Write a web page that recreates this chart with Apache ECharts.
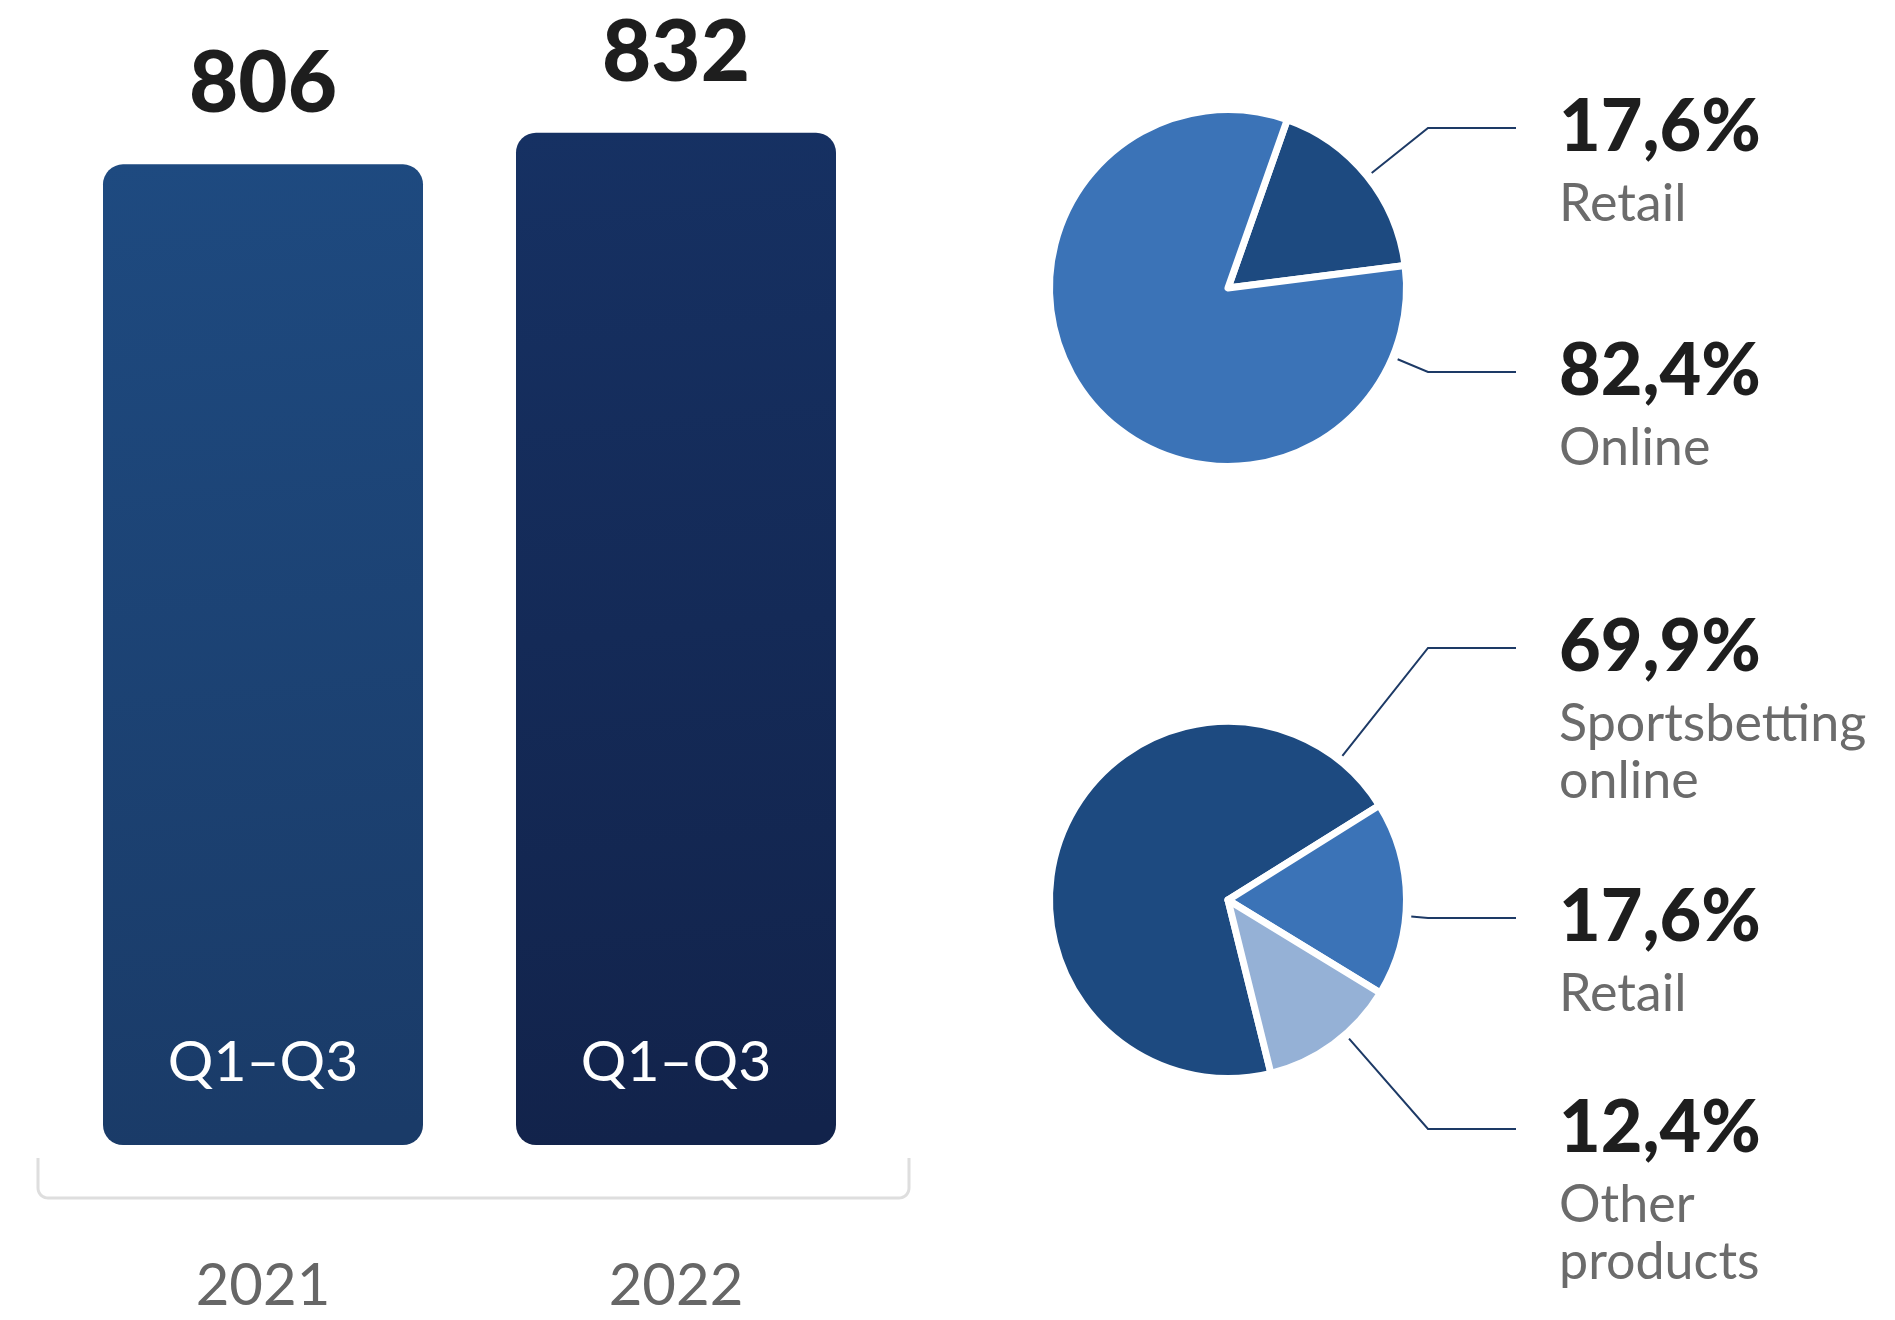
<!DOCTYPE html>
<html>
<head>
<meta charset="utf-8">
<script src="https://cdn.jsdelivr.net/npm/echarts@6/dist/echarts.min.js"></script>
<style>
  html, body { margin: 0; padding: 0; background: #ffffff; }
  #chart { width: 1895px; height: 1320px; }
</style>
</head>
<body>
<div id="chart"></div>
<script>
// Revenue by period
const years = ['2021', '2022'];
const revenue = [806, 832];
const periods = ['Q1–Q3', 'Q1–Q3'];

// Split by channel
const channelNames = ['Retail', 'Online'];
const channelShares = [17.6, 82.4];

// Split by product
const productNames = ['Sportsbetting\nonline', 'Retail', 'Other\nproducts'];
const productShares = [69.9, 17.6, 12.4];

// ---- styling / layout ----
const FONT = 'Lato, "Open Sans", sans-serif';
const barFills = [
  { type: 'linear', x: 0, y: 0, x2: 0.3, y2: 1, colorStops: [
    { offset: 0, color: '#1e4a80' }, { offset: 1, color: '#1a3b68' } ] },
  { type: 'linear', x: 0, y: 0, x2: 0.3, y2: 1, colorStops: [
    { offset: 0, color: '#163163' }, { offset: 1, color: '#12234b' } ] }
];
const channelColors = ['#1d4a80', '#3b73b7'];
const productColors = ['#1d4a80', '#3b73b7', '#95b1d6'];

const GRID_LEFT = 56.5, GRID_WIDTH = 826, GRID_TOP = 50, GRID_HEIGHT = 1095;

const PIE_X = 1228;
const PIE_BORDER = 7;
const PIE_R = 178.5;                       // outer radius of the sector path
const VISIBLE_R = PIE_R - PIE_BORDER / 2;  // radius after the white border
const CHANNEL_CY = 288, PRODUCT_CY = 900;
const ELBOW_X = 1428, LINE_END_X = 1516, LABEL_X = 1559;
const channelRows = [128, 372];        // leader line heights, channel pie
const productRows = [648, 918, 1129];  // leader line heights, product pie

// Leader: radial segment from just outside the pie to the elbow, then horizontal
function leaderLayout(cx, cy, rows) {
  return function (params) {
    const ly = rows[params.dataIndex];
    const dx = ELBOW_X - cx, dy = ly - cy;
    const len = Math.sqrt(dx * dx + dy * dy);
    const r0 = VISIBLE_R + 9;
    return {
      x: LABEL_X,
      y: ly - 48,
      align: 'left',
      verticalAlign: 'top',
      labelLinePoints: [
        [cx + dx * r0 / len, cy + dy * r0 / len],
        [ELBOW_X, ly],
        [LINE_END_X, ly]
      ]
    };
  };
}

function shareLabel(p) {
  const pct = p.value.toFixed(1).replace('.', ',') + '%';
  const name = p.name.split('\n').map(s => '{n|' + s + '}').join('\n');
  return '{p|' + pct + '}\n' + name;
}

const pieLabel = {
  show: true,
  position: 'outside',
  formatter: shareLabel,
  rich: {
    p: { fontFamily: FONT, fontSize: 72, fontWeight: 900, color: '#1e1e1e', lineHeight: 96 },
    n: { fontFamily: FONT, fontSize: 52, color: '#6b6b6b', lineHeight: 57 }
  }
};
const pieLabelLine = {
  show: true, length: 10, length2: 10, smooth: false,
  lineStyle: { color: '#1d3a66', width: 2 }
};

function pieSeries(names, shares, colors, cy, startAngle, rows) {
  return {
    type: 'pie',
    center: [PIE_X, cy],
    radius: PIE_R,
    startAngle: startAngle,
    clockwise: true,
    avoidLabelOverlap: false,
    silent: true,
    itemStyle: { borderColor: '#ffffff', borderWidth: PIE_BORDER, borderJoin: 'round' },
    label: pieLabel,
    labelLine: pieLabelLine,
    labelLayout: leaderLayout(PIE_X, cy, rows),
    data: names.map((n, i) => ({ name: n, value: shares[i], itemStyle: { color: colors[i] } }))
  };
}

// Grey bracket under the bars: two short uprights joined by a baseline with rounded corners
function bracketPoints(x0, x1, yTop, yBot, r) {
  const pts = [[x0, yTop]];
  const steps = 10;
  for (let k = 0; k <= steps; k++) {
    const t = (Math.PI / 2) * (k / steps);   // lower-left corner
    pts.push([x0 + r - r * Math.cos(t), yBot - r + r * Math.sin(t)]);
  }
  for (let k = 0; k <= steps; k++) {
    const t = (Math.PI / 2) * (k / steps);   // lower-right corner
    pts.push([x1 - r + r * Math.sin(t), yBot - r + r * Math.cos(t)]);
  }
  pts.push([x1, yTop]);
  return pts;
}

const chart = echarts.init(document.getElementById('chart'), null, { renderer: 'canvas' });

const gridRight = GRID_LEFT + GRID_WIDTH;

chart.setOption({
  backgroundColor: '#ffffff',
  animation: false,
  grid: { left: GRID_LEFT, top: GRID_TOP, width: GRID_WIDTH, height: GRID_HEIGHT },
  xAxis: {
    type: 'category',
    data: years,
    axisLine: { show: false },
    axisTick: { show: false },
    axisLabel: { fontFamily: FONT, fontSize: 58, color: '#666666', margin: 112, lineHeight: 58 }
  },
  yAxis: { type: 'value', min: 0, max: 900, show: false, splitLine: { show: false } },
  graphic: [{
    type: 'polyline',
    silent: true,
    shape: { points: bracketPoints(GRID_LEFT - 18.5, gridRight + 26.5, 1158, 1198, 10) },
    style: { fill: null, stroke: '#dedede', lineWidth: 3 }
  }],
  series: [
    {
      type: 'bar',
      barWidth: 320,
      barGap: '-100%',
      silent: true,
      itemStyle: { borderRadius: 20 },
      label: {
        show: true, position: 'top', distance: 37,
        fontFamily: FONT, fontSize: 85, fontWeight: 900, color: '#1e1e1e', lineHeight: 85
      },
      data: revenue.map((v, i) => ({ value: v, itemStyle: { color: barFills[i] } }))
    },
    {
      type: 'bar',
      barWidth: 320,
      barGap: '-100%',
      silent: true,
      z: 3,
      itemStyle: { color: 'rgba(0,0,0,0)' },
      label: {
        show: true, position: 'insideBottom', distance: 54,
        formatter: p => periods[p.dataIndex],
        fontFamily: FONT, fontSize: 57, color: '#ffffff', lineHeight: 57
      },
      data: revenue
    },
    pieSeries(channelNames, channelShares, channelColors, CHANNEL_CY, 70.6, channelRows),
    pieSeries(productNames, productShares, productColors, PRODUCT_CY, -76.1, productRows)
  ]
});
</script>
</body>
</html>
